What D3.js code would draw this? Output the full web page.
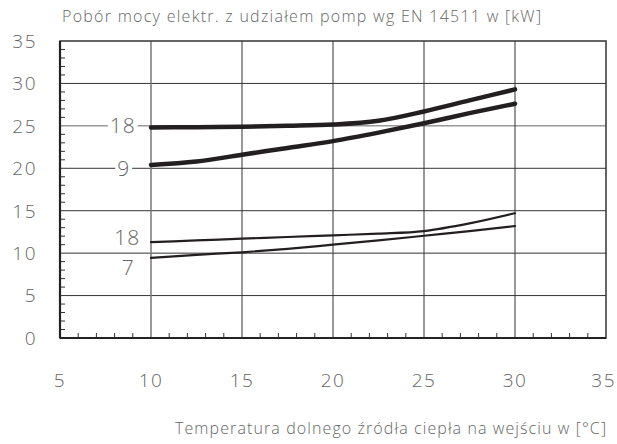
<!DOCTYPE html>
<meta charset="utf-8">
<svg width="617" height="444"></svg>
<script src="https://d3js.org/d3.v7.min.js"></script>
<style>
    body { margin: 0; background: #fff; }
    text { font-family: "Open Sans", "Liberation Sans", sans-serif; font-weight: 300; fill: #666; }
</style>
<script>
    // temperature points (°C)
    var temps = [10, 12.5, 15, 17.5, 20, 22.5, 25, 27.5, 30];
    // power consumption in kW
    var thick18 = [24.8, 24.85, 24.9, 25.0, 25.15, 25.6, 26.7, 28.0, 29.3];
    var thick9 = [20.4, 20.8, 21.6, 22.4, 23.2, 24.2, 25.3, 26.5, 27.6];
    var thin18 = [11.3, 11.5, 11.7, 11.9, 12.1, 12.3, 12.6, 13.5, 14.7];
    var thin7 = [9.45, 9.8, 10.1, 10.5, 11.0, 11.5, 12.05, 12.6, 13.2];
    var xTicks = [5, 10, 15, 20, 25, 30, 35];
    var yTicks = [0, 5, 10, 15, 20, 25, 30, 35];
    // curve labels: [text, x, y]
    var labels = [["18", 8.45, 25], ["9", 8.5, 20], ["18", 8.7, 11.8], ["7", 8.75, 8.3]];

    var svg = d3.select("svg"),
        margin = { top: 41, right: 11, bottom: 106, left: 60 },
        width = +svg.attr("width") - margin.left - margin.right,
        height = +svg.attr("height") - margin.top - margin.bottom,
        g = svg.append("g").attr("transform", "translate(" + margin.left + "," + margin.top + ")");

    var x = d3.scaleLinear().domain([5, 35]).range([0, width]);
    var y = d3.scaleLinear().domain([0, 35]).range([height, 0]);

    // grid
    g.append("g").selectAll("line").data(yTicks.slice(1, -1)).enter().append("line")
        .attr("x1", 0).attr("x2", width)
        .attr("y1", d => y(d)).attr("y2", d => y(d))
        .attr("stroke", d => d == 25 ? "#666" : "#333").attr("stroke-width", 1);
    g.append("g").selectAll("line").data(xTicks.slice(1, -1)).enter().append("line")
        .attr("y1", 0).attr("y2", height)
        .attr("x1", d => x(d)).attr("x2", d => x(d))
        .attr("stroke", d => d == 10 ? "#777" : "#333").attr("stroke-width", d => d == 10 ? 1.5 : 1);

    // minor ticks
    g.append("g").selectAll("line").data(d3.range(6, 35).filter(d => d % 5)).enter().append("line")
        .attr("x1", d => x(d)).attr("x2", d => x(d))
        .attr("y1", height).attr("y2", height - 5)
        .attr("stroke", "#333");
    g.append("g").selectAll("line").data(d3.range(1, 35).filter(d => d % 5)).enter().append("line")
        .attr("x1", 0).attr("x2", 5)
        .attr("y1", d => y(d)).attr("y2", d => y(d))
        .attr("stroke", "#333");

    // frame
    g.append("rect").attr("width", width).attr("height", height)
        .attr("fill", "none").attr("stroke", "#333").attr("stroke-width", 1.5);
    g.append("line").attr("x1", 0).attr("x2", 0).attr("y1", 0).attr("y2", height)
        .attr("stroke", "#222").attr("stroke-width", 2.2);
    g.append("line").attr("x1", 0).attr("x2", width).attr("y1", height).attr("y2", height)
        .attr("stroke", "#222").attr("stroke-width", 2.2);

    // tick labels
    g.append("g").selectAll("text").data(yTicks).enter().append("text")
        .attr("x", -23).attr("y", d => y(d)).attr("dy", "0.36em")
        .attr("text-anchor", "end").attr("font-size", 19).attr("letter-spacing", 1.5).text(d => d);
    g.append("g").selectAll("text").data(xTicks).enter().append("text")
        .attr("x", d => d == 35 ? x(d) + 10 : x(d)).attr("y", height + 42).attr("dy", "0.36em")
        .attr("text-anchor", d => d == 35 ? "end" : "middle")
        .attr("font-size", 19).attr("letter-spacing", 1.5).text(d => d);

    // curves
    var line = d3.line()
        .x((d, i) => x(temps[i]))
        .y(d => y(d))
        .curve(d3.curveMonotoneX);
    [[thick18, 4.5], [thick9, 4.5], [thin18, 2.2], [thin7, 2.2]].forEach(function (s) {
        g.append("path").datum(s[0])
            .attr("fill", "none").attr("stroke", "#231f20")
            .attr("stroke-width", s[1]).attr("stroke-linecap", "round")
            .attr("d", line);
    });

    // curve labels with white backing to cut grid lines
    labels.forEach(function (l) {
        var t = g.append("text").attr("x", x(l[1])).attr("y", y(l[2])).attr("dy", "0.36em")
            .attr("text-anchor", "middle").attr("font-size", 21).attr("letter-spacing", 1).text(l[0]);
        var b = t.node().getBBox();
        g.insert("rect", () => t.node()).attr("x", b.x - 2).attr("y", b.y + 3).attr("width", b.width + 4).attr("height", b.height - 6)
            .attr("fill", "#fff");
    });

    // titles
    svg.append("text").attr("x", 62).attr("y", 22).attr("font-size", 16)
        .attr("textLength", 479).attr("lengthAdjust", "spacing")
        .text("Pobór mocy elektr. z udziałem pomp wg EN 14511 w [kW]");
    svg.append("text").attr("x", 606).attr("y", 434).attr("text-anchor", "end").attr("font-size", 16)
        .attr("textLength", 431).attr("lengthAdjust", "spacing")
        .text("Temperatura dolnego źródła ciepła na wejściu w [°C]");
</script>
